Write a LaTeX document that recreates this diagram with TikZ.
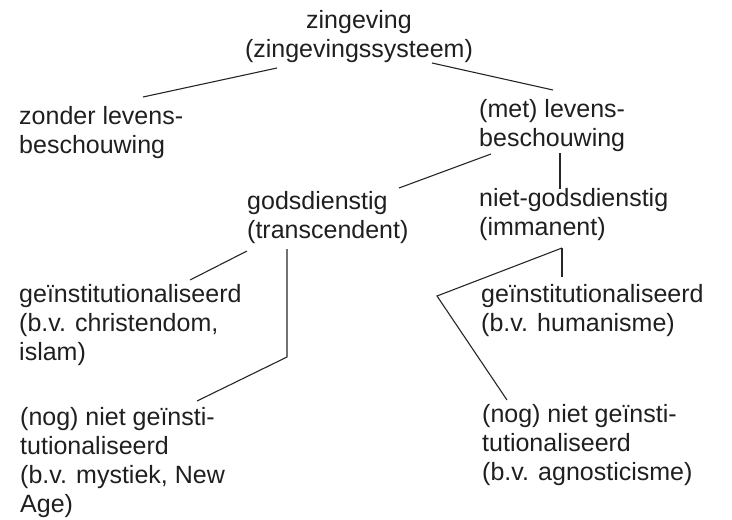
\documentclass[tikz,border=0pt]{standalone}
\usepackage{fontspec}
\setmainfont{Liberation Sans}
\begin{document}
\begin{tikzpicture}[x=1pt,y=-1pt,
        term/.style={align=left,anchor=base west,inner sep=0pt,text=black!88,font=\fontsize{25}{29}\selectfont},
        tak/.style={line width=1.1pt,black!85}]
        \useasboundingbox (0,0) rectangle (732,520);
        % base = baseline of the last line
        \node[term,align=center,anchor=base] (zin) at (359,57) {zingeving\\(zingevingssysteem)};
        \node[term] (zonder) at (19,153) {zonder levens-\\beschouwing};
        \node[term] (met) at (479,146) {(met) levens-\\beschouwing};
        \node[term] (gods) at (247,238) {godsdienstig\\(transcendent)};
        \node[term] (niet) at (479,235) {niet-godsdienstig\\(immanent)};
        \node[term] (instL) at (19,360) {geïnstitutionaliseerd\\(b.v. christendom,\\islam)};
        \node[term] (nogL) at (20,512) {(nog) niet geïnsti-\\tutionaliseerd\\(b.v. mystiek, New\\Age)};
        \node[term] (instR) at (481,331) {geïnstitutionaliseerd\\(b.v. humanisme)};
        \node[term] (nogR) at (482,480) {(nog) niet geïnsti-\\tutionaliseerd\\(b.v. agnosticisme)};
        \coordinate (knikL) at (287,357);
        \coordinate (knikR) at (437,296);
        \draw[tak] ([shift={(-82,11)}]zin.base) -- ([shift={(124,-56)}]zonder.base west);
        \draw[tak] ([shift={(73,6)}]zin.base) -- ([shift={(74,-56)}]met.base west);
        \draw[tak] ([shift={(12,8)}]met.base west) -- ([shift={(152,-50)}]gods.base west);
        \draw[tak] ([shift={(81,7)}]met.base west) -- ([shift={(81,-46)}]niet.base west);
        \draw[tak] ([shift={(0,13)}]gods.base west) -- ([shift={(171,-80)}]instL.base west);
        \draw[tak] ([shift={(40,11)}]gods.base west) -- (knikL) -- ([shift={(177,-111)}]nogL.base west);
        \draw[tak] ([shift={(83,13)}]niet.base west) -- ([shift={(81,-54)}]instR.base west);
        \draw[tak] ([shift={(83,13)}]niet.base west) -- (knikR) -- ([shift={(25,-80)}]nogR.base west);
    \end{tikzpicture}
\end{document}
